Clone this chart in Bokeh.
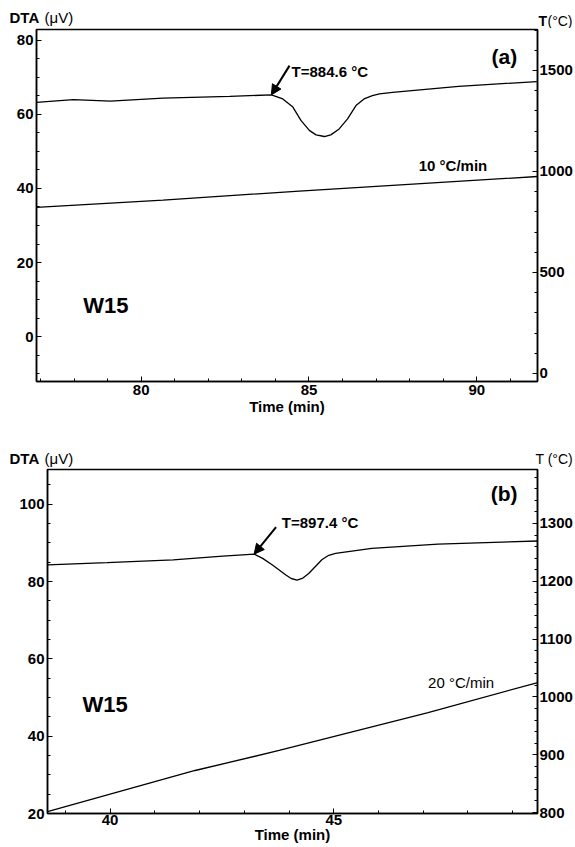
from bokeh.plotting import figure
from bokeh.models import Range1d, LinearAxis, SingleIntervalTicker, Label, Arrow, NormalHead
from bokeh.layouts import column, row
from bokeh.embed import file_html
from bokeh.resources import INLINE

FONT = "Liberation Sans"

# ---------------- Panel (a) data ----------------
a_time = [76.88, 77.98, 79.08, 80.65, 82.64, 83.88, 84.22, 84.52, 84.76, 85.01, 85.21,
          85.46, 85.65, 85.90, 86.15, 86.40, 86.64, 86.89, 87.10, 87.49, 89.46, 91.79]
a_dta = [63.3, 64.0, 63.6, 64.4, 64.9, 65.3, 64.2, 62.0, 58.4, 55.7, 54.5,
         54.05, 54.5, 56.1, 58.8, 62.4, 64.2, 65.1, 65.6, 66.0, 67.6, 68.9]
a_temp_time = [76.88, 80.65, 84.71, 91.81]
a_temp = [822, 858, 903, 975]
a_onset = (83.88, 65.3)

# ---------------- Panel (b) data ----------------
b_time = [38.60, 39.93, 41.41, 42.52, 43.22, 43.41, 43.63, 43.93, 44.05, 44.18, 44.31,
          44.44, 44.59, 44.74, 44.89, 45.04, 45.85, 47.33, 49.56]
b_dta = [84.3, 84.9, 85.6, 86.6, 87.1, 86.0, 84.3, 81.7, 80.8, 80.4, 80.9,
         82.1, 83.9, 85.7, 86.8, 87.3, 88.6, 89.7, 90.5]
b_temp_time = [38.60, 41.90, 43.78, 47.11, 49.56]
b_temp = [801.7, 872.7, 907.3, 973.0, 1024.9]
b_onset = (43.22, 87.1)


def style_axis(ax, interval, minor):
    ax.ticker = SingleIntervalTicker(interval=interval, num_minor_ticks=minor)
    ax.major_label_text_font = FONT
    ax.major_label_text_font_style = "bold"
    ax.major_label_text_font_size = "15px"
    ax.major_label_text_color = "black"
    ax.axis_line_color = "black"
    ax.axis_line_width = 1.5
    ax.major_tick_line_color = "black"
    ax.minor_tick_line_color = "black"
    ax.major_tick_in = 5
    ax.major_tick_out = 0
    ax.minor_tick_in = 3
    ax.minor_tick_out = 0
    ax.axis_label_text_font = FONT
    ax.axis_label_text_font_style = "bold"
    ax.axis_label_text_font_size = "15px"
    ax.axis_label_text_color = "black"


def make_panel(height, borders, xr, yr, tr, y_int, t_int, t_minor):
    left, right, top, bottom = borders
    p = figure(width=575, height=height, output_backend="svg", toolbar_location=None,
               x_range=Range1d(*xr), y_range=Range1d(*yr),
               min_border_left=left, min_border_right=right,
               min_border_top=top, min_border_bottom=bottom)
    p.extra_y_ranges = {"T": Range1d(*tr)}
    p.xgrid.visible = False
    p.ygrid.visible = False
    p.outline_line_color = "black"
    p.outline_line_width = 1.5
    p.background_fill_color = "white"
    p.border_fill_color = "white"
    style_axis(p.xaxis[0], 5, 5)
    style_axis(p.yaxis[0], y_int, 4)
    p.xaxis[0].axis_label = "Time (min)"
    p.xaxis[0].major_label_standoff = 3
    p.xaxis[0].axis_label_standoff = 0
    p.yaxis[0].major_label_standoff = 3
    rax = LinearAxis(y_range_name="T")
    style_axis(rax, t_int, t_minor)
    rax.major_label_standoff = 2
    p.add_layout(rax, "right")
    return p


def make_header(height):
    # strip above a panel holding the axis headings (pixel coordinates)
    h = figure(width=575, height=height, output_backend="svg", toolbar_location=None,
               x_range=Range1d(0, 575), y_range=Range1d(0, height),
               x_axis_location=None, y_axis_location=None,
               min_border=0, min_border_left=0, min_border_right=0,
               min_border_top=0, min_border_bottom=0)
    h.grid.visible = False
    h.outline_line_color = None
    h.background_fill_color = "white"
    h.border_fill_color = "white"
    return h


def add_text(p, x, y, text, size="15px", style="bold"):
    p.add_layout(Label(x=x, y=y, text=text, text_font=FONT, text_font_style=style,
                       text_font_size=size, text_color="black",
                       text_baseline="middle", text_align="left"))


# ---------------- Panel (a) ----------------
ha = make_header(28)
add_text(ha, 9, 11.5, "DTA")
add_text(ha, 44, 11.5, "(μV)", style="normal")
add_text(ha, 538, 8, "T", size="14px")
add_text(ha, 547, 8, "(°C)", size="14px", style="normal")

pa = make_panel(394, (36, 36, 1, 41), (76.88, 91.81), (-12.16, 82.97), (-40, 1703),
                20, 500, 5)
pa.line(a_time, a_dta, line_color="black", line_width=1.3)
pa.line(a_temp_time, a_temp, line_color="black", line_width=1.3, y_range_name="T")
pa.add_layout(Arrow(end=NormalHead(size=10, fill_color="black", line_color="black"),
                    x_start=84.42, y_start=73.2, x_end=a_onset[0], y_end=a_onset[1],
                    line_color="black", line_width=2))
add_text(pa, 84.48, 71.75, "T=884.6 °C")
add_text(pa, 90.44, 75.54, "(a)", size="21px")
add_text(pa, 88.27, 46.35, "10 °C/min")
add_text(pa, 78.27, 8.38, "W15", size="22px")

# ---------------- Panel (b) ----------------
hb = make_header(46)
add_text(hb, 9, 10, "DTA")
add_text(hb, 44, 10, "(μV)", style="normal")
add_text(hb, 535, 10, "T (°C)", size="14px", style="normal")

pb = make_panel(379, (47, 35, 1, 34), (38.6, 49.556), (20.0, 109.0), (798.3, 1393.4),
                20, 100, 5)
pb.xaxis[0].major_label_standoff = 1
pb.xaxis[0].axis_label_standoff = -2
pb.line(b_time, b_dta, line_color="black", line_width=1.3)
pb.line(b_temp_time, b_temp, line_color="black", line_width=1.3, y_range_name="T")
pb.add_layout(Arrow(end=NormalHead(size=10, fill_color="black", line_color="black"),
                    x_start=43.71, y_start=94.1, x_end=b_onset[0], y_end=b_onset[1],
                    line_color="black", line_width=2))
add_text(pb, 43.84, 95.29, "T=897.4 °C")
add_text(pb, 48.51, 102.92, "(b)", size="21px")
add_text(pb, 47.11, 53.89, "20 °C/min", style="normal")
add_text(pb, 39.38, 48.2, "W15", size="22px")

layout = column(row(ha), row(pa), row(hb), row(pb), spacing=0)
open("out.html", "w").write(file_html(layout, INLINE))
